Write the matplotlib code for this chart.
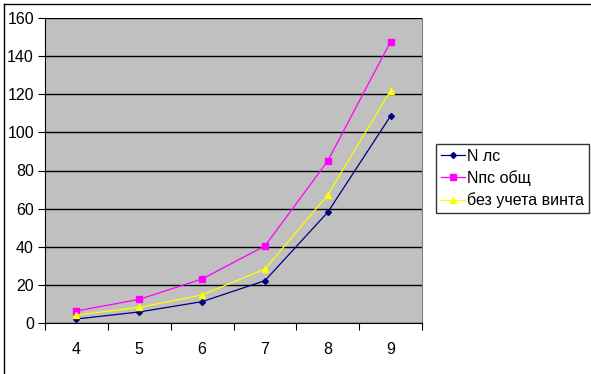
import matplotlib
matplotlib.use("Agg")
import matplotlib.pyplot as plt
from matplotlib.lines import Line2D
from matplotlib.ticker import FixedLocator, NullFormatter

plt.rcParams['font.family'] = ['Liberation Sans', 'DejaVu Sans']

categories = [4, 5, 6, 7, 8, 9]
n_ls = [2.1, 5.8, 11.2, 22.2, 58.1, 108.6]
n_ls_total = [6.3, 12.4, 23.1, 40.4, 85.0, 147.6]
no_prop = [4.2, 8.2, 14.7, 28.3, 67.2, 121.9]
labels = ["N лс", "Nпс общ", "без учета винта"]
yticks = [0, 20, 40, 60, 80, 100, 120, 140, 160]

W, H = 591, 374
fig = plt.figure(figsize=(W / 100, H / 100), dpi=100)
fig.patch.set_facecolor('white')

ax = fig.add_axes([45 / W, 1 - 323 / H, (422 - 45) / W, (323 - 18) / H])
ax.set_facecolor('#C0C0C0')

x = list(range(len(categories)))
ax.plot(x, n_ls, color='#000080', marker='D', markersize=3, lw=0.9, label=labels[0])
ax.plot(x, n_ls_total, color='#FF00FF', marker='s', markersize=4, lw=0.9, label=labels[1])
ax.plot(x, no_prop, color='#FFFF00', marker='^', markersize=4.5, lw=0.9, label=labels[2])

ax.set_xlim(-0.5, len(categories) - 0.5)
ax.set_ylim(0, 160)
ax.set_yticks(yticks)
ax.set_yticklabels([str(v) for v in yticks], fontsize=11.5)
ax.yaxis.grid(True, color='black', lw=1.0)
ax.set_axisbelow(True)

ax.xaxis.set_major_locator(FixedLocator([i - 0.5 for i in range(len(categories) + 1)]))
ax.xaxis.set_major_formatter(NullFormatter())
ax.xaxis.set_minor_locator(FixedLocator(x))
ax.set_xticklabels([str(c) for c in categories], minor=True, fontsize=11.5)
ax.tick_params(axis='x', which='major', length=5, direction='out', color='black')
ax.tick_params(axis='x', which='minor', length=0, pad=14)
ax.tick_params(axis='y', length=5, direction='out', color='black', pad=3)

ax.spines['left'].set_color('black')
ax.spines['bottom'].set_color('black')
ax.spines['top'].set_visible(False)
ax.spines['right'].set_color('#808080')

leg = fig.legend(loc='upper left', bbox_to_anchor=(436 / W, 1 - 144 / H),
                 fontsize=11.5, frameon=True, fancybox=False, edgecolor='black',
                 borderpad=0.3, labelspacing=0.4, handlelength=1.5, handletextpad=0.15,
                 borderaxespad=0)
leg.get_frame().set_linewidth(1.0)

# outer chart frame (top and left edges)
fig.add_artist(Line2D([4 / W, 1], [1 - 4 / H, 1 - 4 / H], transform=fig.transFigure, color='black', lw=1))
fig.add_artist(Line2D([4 / W, 4 / W], [0, 1 - 4 / H], transform=fig.transFigure, color='black', lw=1))

fig.savefig('out.png', dpi=100)
